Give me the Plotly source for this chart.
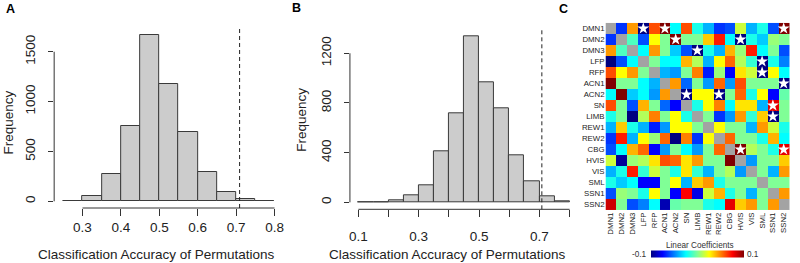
import plotly.graph_objects as go

W, H = 800, 263


def px(x):
    return x / W


def py(y):
    return 1 - y / H


# ---------------- data ----------------
bins_a = [0.25, 0.30, 0.35, 0.40, 0.45, 0.50, 0.55, 0.60, 0.65, 0.70, 0.75]
counts_a = [4, 50, 277, 755, 1668, 1173, 698, 294, 90, 20, 3]
ticks_a_x = [0.3, 0.4, 0.5, 0.6, 0.7, 0.8]
ticks_a_y = [0, 500, 1000, 1500]
observed_a = 0.709

bins_b = [0.10, 0.15, 0.20, 0.25, 0.30, 0.35, 0.40, 0.45, 0.50, 0.55, 0.60, 0.65, 0.70, 0.75]
counts_b = [1, 2, 16, 59, 140, 408, 714, 1339, 966, 757, 381, 169, 46, 10]
ticks_b_x = [0.1, 0.2, 0.3, 0.4, 0.5, 0.6, 0.7, 0.8]
ticks_b_x_text = ["0.1", "", "0.3", "", "0.5", "", "0.7", ""]
ticks_b_y = [0, 400, 800, 1200]
observed_b = 0.708
bin_width = 0.05

networks = ["DMN1", "DMN2", "DMN3", "LFP", "RFP", "ACN1", "ACN2", "SN", "LIMB",
            "REW1", "REW2", "CBG", "HVIS", "VIS", "SML", "SSN1", "SSN2"]
N = None
coef = [
    [N, -0.065, 0.045, -0.1, 0.06, 0.1, -0.025, 0.06, -0.02, -0.04, -0.065, -0.06, 0.015, -0.04, -0.02, -0.06, 0.1],
    [-0.065, N, -0.01, -0.06, 0.025, 0.0, 0.1, 0.0, 0.0, 0.035, 0.07, -0.025, -0.1, -0.02, -0.035, 0.005, 0.0],
    [0.045, -0.01, N, -0.025, 0.045, 0.0, -0.035, -0.06, -0.1, -0.02, -0.04, 0.04, 0.005, 0.07, -0.025, 0.0, -0.06],
    [-0.1, -0.06, -0.025, N, 0.0, -0.025, -0.025, 0.04, 0.01, -0.04, 0.025, 0.055, 0.01, -0.015, -0.1, -0.02, -0.05],
    [0.06, 0.025, 0.045, 0.0, N, -0.04, -0.045, 0.0, 0.05, -0.07, 0.005, -0.075, 0.03, 0.015, -0.1, 0.025, -0.025],
    [0.1, 0.0, 0.0, -0.025, -0.04, N, 0.045, -0.055, 0.0, -0.045, 0.055, -0.045, 0.06, 0.0, 0.0, 0.0, -0.1],
    [-0.025, 0.1, -0.035, -0.025, -0.045, 0.045, N, -0.1, 0.025, 0.025, -0.1, 0.0, 0.055, -0.02, 0.025, -0.075, -0.005],
    [0.06, 0.0, -0.06, 0.04, 0.0, -0.055, -0.075, N, -0.02, 0.025, 0.05, -0.025, 0.03, 0.03, -0.04, 0.08, 0.0],
    [-0.02, 0.0, -0.1, 0.01, 0.05, 0.0, 0.025, -0.02, N, 0.0, -0.065, -0.045, 0.045, -0.015, 0.035, -0.1, 0.0],
    [-0.04, 0.035, -0.02, -0.04, -0.07, -0.045, 0.025, 0.025, 0.0, N, 0.025, 0.0, 0.0, -0.04, 0.045, 0.015, -0.02],
    [-0.065, 0.07, -0.04, 0.025, 0.005, 0.055, -0.1, 0.05, -0.065, 0.025, N, 0.055, 0.0, 0.0, -0.02, 0.04, -0.025],
    [-0.06, -0.025, 0.04, 0.055, -0.075, -0.045, 0.0, -0.025, -0.045, 0.0, 0.055, N, 0.1, 0.01, 0.0, -0.02, 0.08],
    [0.015, -0.095, 0.005, 0.01, 0.03, 0.06, 0.055, 0.03, 0.045, 0.0, 0.0, 0.1, N, -0.045, 0.0, 0.0, 0.035],
    [-0.04, -0.02, 0.07, -0.015, 0.015, 0.0, -0.02, 0.03, -0.015, -0.04, 0.0, 0.01, -0.045, N, 0.0, -0.04, 0.045],
    [-0.02, -0.035, -0.025, -0.075, -0.075, 0.0, 0.025, -0.04, 0.035, 0.045, -0.02, 0.0, 0.0, 0.0, N, 0.0, 0.0],
    [-0.06, 0.005, 0.0, -0.02, 0.025, 0.0, -0.075, 0.075, -0.08, 0.015, 0.04, -0.02, 0.0, -0.04, 0.0, N, 0.045],
    [0.085, 0.0, -0.06, -0.05, -0.025, -0.09, -0.005, 0.0, 0.0, -0.02, -0.025, 0.08, 0.035, 0.045, 0.0, 0.045, N],
]
# significant connections (row, column)
star_pairs = [("DMN1", "LFP"), ("DMN1", "ACN1"), ("DMN1", "SSN2"),
              ("DMN2", "ACN2"), ("DMN2", "HVIS"), ("DMN3", "LIMB"),
              ("LFP", "SML"), ("RFP", "SML"), ("ACN1", "SSN2"),
              ("ACN2", "SN"), ("ACN2", "REW2"), ("SN", "SSN1"),
              ("LIMB", "SSN1"), ("CBG", "HVIS"), ("CBG", "SSN2")]

jet = [[0.0, "rgb(0,0,128)"], [0.125, "rgb(0,0,255)"], [0.375, "rgb(0,255,255)"],
       [0.5, "rgb(128,255,150)"], [0.625, "rgb(255,255,0)"], [0.875, "rgb(255,0,0)"],
       [1.0, "rgb(128,0,0)"]]

FONT = "Liberation Sans, Arial, sans-serif"
AX = "#333333"

fig = go.Figure()

bar_style = dict(color="#cccccc", line=dict(color="#3a3a3a", width=1))
fig.add_trace(go.Bar(x=bins_a, y=counts_a, width=bin_width, offset=0,
                     marker=bar_style, xaxis="x", yaxis="y", hoverinfo="skip"))
fig.add_trace(go.Bar(x=bins_b, y=counts_b, width=bin_width, offset=0,
                     marker=bar_style, xaxis="x2", yaxis="y2", hoverinfo="skip"))

fig.add_trace(go.Heatmap(
    z=coef, x=networks, y=networks, zmin=-0.1, zmax=0.1, colorscale=jet,
    xaxis="x3", yaxis="y3", hoverongaps=False,
    colorbar=dict(orientation="h", x=px(698.4), xanchor="center", y=py(254.2),
                  yanchor="middle", len=93, lenmode="pixels", thickness=7,
                  thicknessmode="pixels", outlinewidth=0, showticklabels=False,
                  ticks="", xpad=0, ypad=0)))

diag = [[1 if i == j else None for j in range(len(networks))] for i in range(len(networks))]
fig.add_trace(go.Heatmap(z=diag, x=networks, y=networks, showscale=False,
                         colorscale=[[0, "#a3a3a3"], [1, "#a3a3a3"]],
                         xaxis="x3", yaxis="y3", hoverinfo="skip"))

fig.add_trace(go.Scatter(x=[c for r, c in star_pairs], y=[r for r, c in star_pairs],
                         mode="markers", xaxis="x3", yaxis="y3",
                         marker=dict(symbol="star", size=9, color="white", line=dict(width=0)),
                         hoverinfo="skip"))

hist_axis = dict(showgrid=False, zeroline=False, showline=False, ticks="outside",
                 tickcolor=AX, tickwidth=1, tickfont=dict(family=FONT, size=13.5, color="#222"))

fig.update_layout(
    width=W, height=H, margin=dict(l=0, r=0, t=0, b=0),
    paper_bgcolor="white", plot_bgcolor="white", showlegend=False, bargap=0,
    xaxis=dict(hist_axis, domain=[px(53.3), px(282.7)], range=[0.2262, 0.822],
               tickvals=ticks_a_x, ticklen=7, anchor="y", ticklabelstandoff=0),
    yaxis=dict(hist_axis, domain=[py(208), py(28)], range=[-67, 1738],
               tickvals=ticks_a_y, ticklen=5, tickangle=-90, anchor="x",
               ticklabelstandoff=8),
    xaxis2=dict(hist_axis, domain=[px(349.8), px(578.5)], range=[0.0719, 0.828],
                tickvals=ticks_b_x, ticktext=ticks_b_x_text, ticklen=7, anchor="y2",
                ticklabelstandoff=7),
    yaxis2=dict(hist_axis, domain=[py(209.3), py(29.3)], range=[-56, 1393],
                tickvals=ticks_b_y, ticklen=5, tickangle=-90, anchor="x2",
                ticklabelstandoff=8),
    xaxis3=dict(domain=[px(606), 1.0], anchor="y3", showgrid=False, zeroline=False,
                ticks="", tickangle=-90, tickfont=dict(family=FONT, size=7.8, color="#222")),
    yaxis3=dict(domain=[py(210), py(13)], anchor="x3", showgrid=False, zeroline=False,
                ticks="", autorange="reversed",
                tickfont=dict(family=FONT, size=7.8, color="#222")),
)

line = dict(color=AX, width=1)
dash = dict(color="#222", width=1, dash="4px,3px")
fig.add_shape(type="line", xref="x", yref="y domain", x0=ticks_a_x[0], x1=ticks_a_x[-1], y0=0, y1=0, line=line)
fig.add_shape(type="line", xref="x domain", yref="y", x0=0, x1=0, y0=ticks_a_y[0], y1=ticks_a_y[-1], line=line)
fig.add_shape(type="line", xref="x2", yref="y2 domain", x0=ticks_b_x[0], x1=ticks_b_x[-1], y0=0, y1=0, line=line)
fig.add_shape(type="line", xref="x2 domain", yref="y2", x0=0, x1=0, y0=ticks_b_y[0], y1=ticks_b_y[-1], line=line)
fig.add_shape(type="line", xref="x", yref="y domain", x0=observed_a, x1=observed_a, y0=0, y1=1, line=dash)
fig.add_shape(type="line", xref="x2", yref="y2 domain", x0=observed_b, x1=observed_b, y0=0, y1=1, line=dash)


def note(text, x, y, size=13.5, angle=0, bold=False, color="#222"):
    fig.add_annotation(text=f"<b>{text}</b>" if bold else text, x=px(x), y=py(y),
                       xref="paper", yref="paper", showarrow=False, textangle=angle,
                       xanchor="center", yanchor="middle",
                       font=dict(family=FONT, size=size, color=color))


note("A", 10, 9, size=12.5, bold=True, color="black")
note("B", 296, 8, size=12.5, bold=True, color="black")
note("C", 564, 9, size=12.5, bold=True, color="black")
note("Classification Accuracy of Permutations", 156, 254)
note("Classification Accuracy of Permutations", 448, 254)
note("Frequency", 8.5, 122, angle=-90)
note("Frequency", 300.5, 120, angle=-90)
note("Linear Coefficients", 701, 245, size=8.2, color="#333")
note("-0.1", 640, 254, size=8.2, color="#333")
note("0.1", 754, 254, size=8.2, color="#333")

fig.write_html("out.html")
